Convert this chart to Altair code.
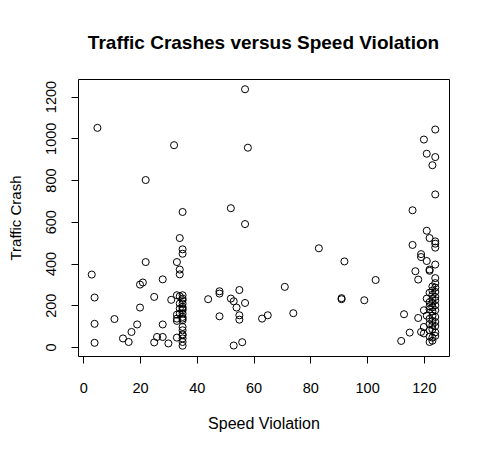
import altair as alt
import pandas as pd

# speed violations (x) and traffic crashes (y)
speed = [
    3, 4, 4, 4, 5, 11, 14, 16, 17, 19, 20, 20, 21, 22, 22,
    25, 25, 26, 28, 28, 28, 30, 31, 32, 34, 33,
    35, 35, 35, 34, 34, 33, 34, 35, 35, 35, 34, 35, 35, 34, 35, 35, 34, 33,
    35, 33, 35, 35, 33, 35, 35, 35, 35, 33, 35, 35, 35, 35,
    44, 48, 48, 48, 52, 52, 53, 54, 55, 55, 55, 56, 53, 57, 58, 57, 57,
    63, 65, 71, 74, 83, 91, 91, 92, 99, 103,
    112, 113, 115, 116, 116, 117, 118, 118, 119, 119, 119, 120, 120, 120, 120,
    121, 121, 121, 121, 121, 122, 122, 122, 122, 122, 122, 122, 123, 123,
    124, 124, 124, 124, 124, 124, 124, 124, 124, 124, 124, 124, 124, 124,
    124, 124, 124, 124, 124, 124,
    123, 123, 123, 123, 123, 123, 123, 123, 123, 123, 123, 123,
    122, 122, 122, 122, 122,
]
crash = [
    347, 237, 111, 20, 1050, 134, 41, 24, 72, 108, 189, 299, 309, 407, 800,
    240, 22, 48, 324, 108, 48, 17, 226, 967, 522, 407,
    647, 468, 447, 371, 348, 248, 243, 248, 232, 224, 208, 208, 192, 184, 184, 176, 160, 155,
    160, 136, 144, 136, 125, 128, 96, 80, 61, 45, 56, 41, 24, 6,
    229, 267, 256, 147, 665, 232, 219, 189, 273, 152, 131, 23, 7, 1235, 955, 589, 211,
    136, 152, 288, 162, 473, 229, 234, 410, 224, 321,
    29, 157, 69, 655, 489, 363, 323, 139, 445, 431, 72, 994, 176, 96, 65,
    926, 557, 412, 232, 150, 522, 371, 365, 180, 135, 80, 24, 871, 30,
    1042, 910, 731, 506, 495, 476, 395, 330, 306, 285, 264, 240, 224, 200,
    176, 144, 120, 100, 70, 53,
    290, 270, 250, 230, 210, 190, 170, 150, 125, 105, 85, 45,
    260, 215, 195, 110, 50,
]

df = pd.DataFrame({"speed": speed, "crash": crash})


# R-style axis range: data range stretched by 4% on each side
def r_range(v):
    lo, hi = min(v), max(v)
    ext = 0.04 * (hi - lo)
    return [lo - ext, hi + ext]


font = "Liberation Sans"
W, H = 371, 277

points = alt.Chart(df).mark_point(
    shape="circle", filled=False, size=50, stroke="black", strokeWidth=1, opacity=1
).encode(
    x=alt.X("speed:Q", scale=alt.Scale(domain=r_range(speed), nice=False, zero=False),
            axis=alt.Axis(title="Speed Violation", values=[0, 20, 40, 60, 80, 100, 120],
                          format="d", labelBaseline="alphabetic", labelPadding=29,
                          titleBaseline="alphabetic", titleY=72, titleX=W / 2,
                          titleFontSize=16, labelFontSize=14.5)),
    y=alt.Y("crash:Q", scale=alt.Scale(domain=r_range(crash), nice=False, zero=False),
            axis=alt.Axis(title="Traffic Crash", values=[0, 200, 400, 600, 800, 1000, 1200],
                          format="d", labelAngle=270, labelAlign="center",
                          labelBaseline="alphabetic", labelPadding=16,
                          titleAngle=270, titleAlign="center",
                          titleBaseline="alphabetic", titleX=-57.5, titleY=H / 2,
                          titleFontSize=15, labelFontSize=14.5)),
)

chart = points.properties(
    width=W, height=H,
    autosize=alt.AutoSizeParams(type="none"),
    padding={"left": 70, "top": 71, "right": 10, "bottom": 90},
    title=alt.TitleParams("Traffic Crashes versus Speed Violation", font=font, fontSize=19,
                          fontWeight="bold", color="black", anchor="middle",
                          baseline="alphabetic", offset=11),
).configure_axis(
    labelFont=font, titleFont=font, labelColor="black", titleColor="black",
    titleFontWeight="normal", domain=False, grid=False,
    tickColor="black", tickSize=7, tickWidth=1, labelOverlap=False, labelFlush=False,
).configure_view(stroke="black", strokeWidth=1)

chart.save("out.html", embed_options={"renderer": "svg", "actions": False})
